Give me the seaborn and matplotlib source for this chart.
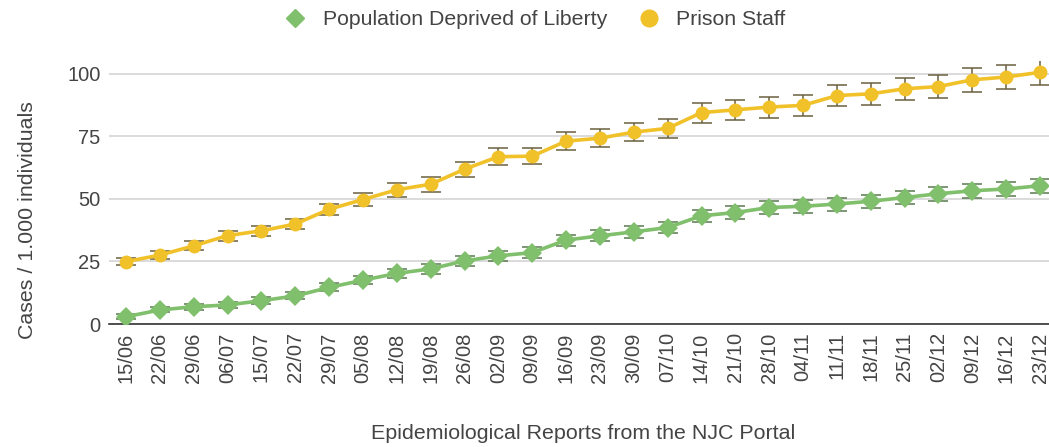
import numpy as np
import pandas as pd
import matplotlib
matplotlib.use("Agg")
import matplotlib.pyplot as plt
from matplotlib.lines import Line2D
import seaborn as sns

dates = ["15/06", "22/06", "29/06", "06/07", "15/07", "22/07", "29/07", "05/08",
         "12/08", "19/08", "26/08", "02/09", "09/09", "16/09", "23/09", "30/09",
         "07/10", "14/10", "21/10", "28/10", "04/11", "11/11", "18/11", "25/11",
         "02/12", "09/12", "16/12", "23/12"]

pdl_values = [2.9, 5.6, 6.9, 7.6, 9.3, 11.2, 14.6, 17.5, 20.2, 22.0, 25.2, 27.2,
              28.5, 33.5, 35.2, 36.8, 38.5, 43.2, 44.5, 46.5, 47.0, 47.9, 49.0,
              50.5, 52.0, 53.2, 53.9, 55.2]
pdl_err = [1.0, 1.0, 1.2, 1.2, 1.3, 1.4, 1.6, 1.7, 1.8, 1.9, 2.0, 2.0, 2.1, 2.2,
           2.2, 2.3, 2.3, 2.4, 2.5, 2.5, 2.5, 2.6, 2.6, 2.7, 2.7, 2.8, 2.8, 2.8]

staff_values = [24.9, 27.5, 31.2, 35.3, 37.2, 39.9, 45.8, 49.7, 53.6, 55.8, 61.8,
                66.8, 67.0, 73.0, 74.2, 76.6, 78.1, 84.4, 85.5, 86.6, 87.3, 91.2,
                91.9, 93.9, 94.8, 97.5, 98.6, 100.5]
staff_err = [1.5, 1.5, 1.8, 2.0, 2.0, 2.0, 2.2, 2.5, 2.8, 3.0, 3.0, 3.3, 3.3, 3.5,
             3.5, 3.7, 3.8, 4.0, 4.0, 4.2, 4.2, 4.3, 4.5, 4.5, 4.6, 4.8, 4.8, 5.0]

series_names = ["Population Deprived of Liberty", "Prison Staff"]
colors = {"Population Deprived of Liberty": "#80bf6c", "Prison Staff": "#f1c12a"}
err_colors = {"Population Deprived of Liberty": "#5a7a50", "Prison Staff": "#6a6040"}

n = len(dates)
df = pd.DataFrame({
    "idx": list(range(n)) * 2,
    "value": pdl_values + staff_values,
    "err": pdl_err + staff_err,
    "series": [series_names[0]] * n + [series_names[1]] * n,
})

sns.set_theme(style="white")
plt.rcParams["font.family"] = ["Liberation Sans", "DejaVu Sans"]
text_color = "#444444"

fig = plt.figure(figsize=(10.49, 4.47), dpi=100)
ax = fig.add_axes([109 / 1049, 123 / 447, (1057 - 109) / 1049, (324 - 61) / 447])

for s in series_names:
    sub = df[df["series"] == s]
    ax.errorbar(sub["idx"], sub["value"], yerr=sub["err"], fmt="none",
                ecolor=err_colors[s], elinewidth=1.3, capsize=7.5, capthick=1.3,
                alpha=0.85, zorder=3)

sns.lineplot(data=df, x="idx", y="value", hue="series", style="series",
             markers={series_names[0]: "D", series_names[1]: "o"},
             dashes=False, palette=colors, linewidth=2.6, markersize=10,
             markeredgewidth=0, legend=False, ax=ax, zorder=4)

ax.set_xlim(-0.5, n - 0.5)
ax.set_ylim(0, 105)
ax.set_yticks([0, 25, 50, 75, 100])
ax.set_xticks(range(n))
ax.set_xticklabels(dates, rotation=90)
ax.tick_params(axis="both", length=0, labelsize=14.5, colors=text_color, pad=6)
ax.grid(axis="y", color="#d4d4d4", linewidth=1.2)
ax.set_axisbelow(True)
for side in ["top", "right", "left"]:
    ax.spines[side].set_visible(False)
ax.spines["bottom"].set_color("#333333")
ax.spines["bottom"].set_linewidth(1.2)

ax.set_xlabel("Epidemiological Reports from the NJC Portal", fontsize=15.4,
              color=text_color, labelpad=30)
ax.set_ylabel("Cases / 1.000 individuals", fontsize=15.4, color=text_color)
ax.yaxis.set_label_coords(-0.076, 0.395)

handles = [
    Line2D([], [], linestyle="none", marker="D", markersize=9, color=colors[series_names[0]]),
    Line2D([], [], linestyle="none", marker="o", markersize=12, color=colors[series_names[1]]),
]
fig.legend(handles, series_names, loc="upper center", bbox_to_anchor=(0.505, 1.02),
           ncol=2, frameon=False, fontsize=15.3, labelcolor=text_color,
           handletextpad=0.3, columnspacing=0.95)

fig.savefig("out.png", dpi=100)
